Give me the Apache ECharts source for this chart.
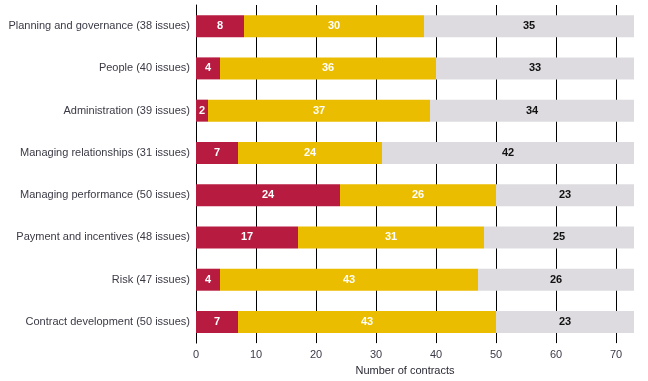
<!DOCTYPE html>
<html>
<head>
<meta charset="utf-8">
<script src="https://cdn.jsdelivr.net/npm/echarts@6/dist/echarts.min.js"></script>
<style>html,body{margin:0;padding:0;background:#fff}#c{width:648px;height:381px}</style>
</head>
<body>
<div id="c"></div>
<script>
const categories = [
  "Planning and governance (38 issues)",
  "People (40 issues)",
  "Administration (39 issues)",
  "Managing relationships (31 issues)",
  "Managing performance (50 issues)",
  "Payment and incentives (48 issues)",
  "Risk (47 issues)",
  "Contract development (50 issues)"
];
const redValues = [8, 4, 2, 7, 24, 17, 4, 7];
const yellowValues = [30, 36, 37, 24, 26, 31, 43, 43];
const greyValues = [35, 33, 34, 42, 23, 25, 26, 23];
const xTicks = [0, 10, 20, 30, 40, 50, 60, 70];

const chart = echarts.init(document.getElementById('c'));
const font = "'Liberation Sans', Arial, Helvetica, sans-serif";
function seg(name, data, color, labelColor) {
  return {
    name, type: 'bar', stack: 'total', data, barWidth: 22,
    itemStyle: { color },
    label: { show: true, position: 'inside', color: labelColor, fontWeight: 'bold', fontSize: 11, fontFamily: font },
    z: 3
  };
}
chart.setOption({
  animation: false,
  grid: { left: 196, right: 14, top: 5, bottom: 36, containLabel: false },
  xAxis: {
    type: 'value', min: 0, max: 73, interval: 10,
    axisLine: { show: false }, axisTick: { show: false },
    axisLabel: { color: '#3c3c4a', fontSize: 11, fontFamily: font, margin: 6, showMaxLabel: false,
      formatter: v => xTicks.includes(v) ? String(v) : '' },
    splitLine: { show: true, showMinLine: false, showMaxLine: false, lineStyle: { color: '#000', width: 1 } },
    name: 'Number of contracts', nameLocation: 'middle', nameGap: 20,
    nameTextStyle: { color: '#2a2a35', fontSize: 11, fontFamily: font, padding: [0, 20, 0, 0] }
  },
  yAxis: {
    type: 'category', data: categories, inverse: true,
    axisLine: { show: true, lineStyle: { color: '#000', width: 1 } },
    axisTick: { show: false },
    axisLabel: { color: '#3a3a45', fontSize: 11, fontFamily: font, margin: 6 }
  },
  series: [
    seg('Red', redValues, '#B71C40', '#fff'),
    seg('Yellow', yellowValues, '#EBBD00', '#fff'),
    seg('Grey', greyValues, '#DDDBDF', '#111')
  ]
});
</script>
</body>
</html>
